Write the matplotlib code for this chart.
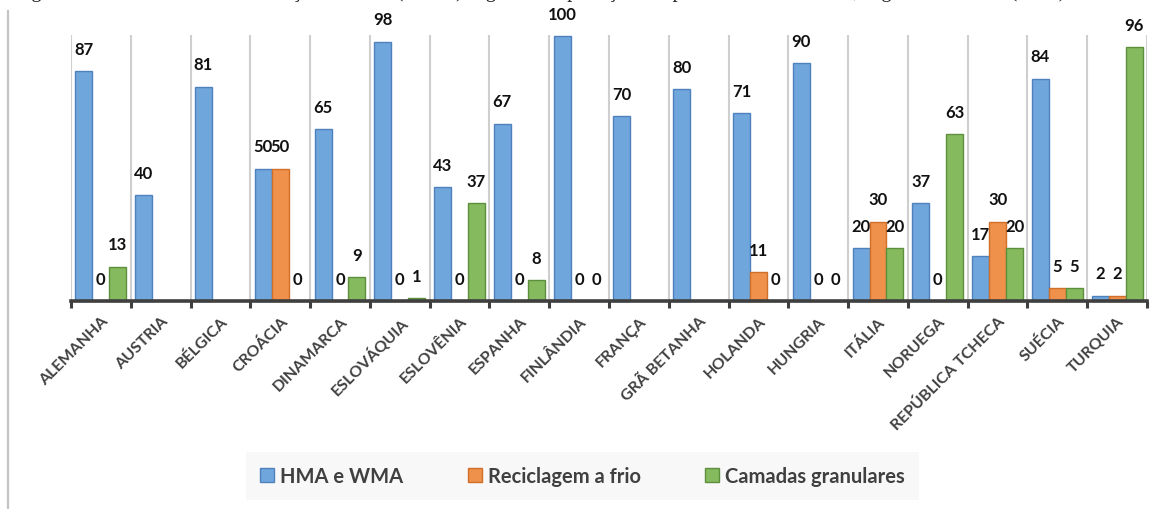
import numpy as np
import matplotlib
matplotlib.use("Agg")
import matplotlib.pyplot as plt
from matplotlib.lines import Line2D

# data (nan = no value shown)
paises = ["ALEMANHA", "AUSTRIA", "BÉLGICA", "CROÁCIA", "DINAMARCA", "ESLOVÁQUIA",
          "ESLOVÊNIA", "ESPANHA", "FINLÂNDIA", "FRANÇA", "GRÃ BETANHA", "HOLANDA",
          "HUNGRIA", "ITÁLIA", "NORUEGA", "REPÚBLICA TCHECA", "SUÉCIA", "TURQUIA"]
nan = np.nan
hma_wma = [87, 40, 81, 50, 65, 98, 43, 67, 100, 70, 80, 71, 90, 20, 37, 17, 84, 2]
reciclagem = [0, nan, nan, 50, 0, 0, 0, 0, 0, nan, nan, 11, 0, 30, 0, 30, 5, 2]
granulares = [13, nan, nan, 0, 9, 1, 37, 8, 0, nan, nan, 0, 0, 20, 63, 20, 5, 96]

series = [
    ("HMA e WMA", hma_wma, "#6FA6DB", "#4F81BD"),
    ("Reciclagem a frio", reciclagem, "#F0914B", "#D06F2A"),
    ("Camadas granulares", granulares, "#85BA5E", "#5E8F3C"),
]

plt.rcParams["font.family"] = ["Lato", "DejaVu Sans"]

W, H = 1165, 510
fig = plt.figure(figsize=(W / 100, H / 100), dpi=100)
ax = fig.add_axes([71 / W, 1 - 302 / H, (1147 - 71) / W, (302 - 36) / H])

x = np.arange(len(paises))
bw = 0.284
for i, (nome, vals, cor, borda) in enumerate(series):
    vals = np.array(vals, dtype=float)
    pos = x + (i - 1) * bw
    ax.bar(pos, vals, bw, color=cor, edgecolor=borda, linewidth=1.0,
           label=nome, zorder=3, clip_on=False)
    for xp, v in zip(pos, vals):
        if np.isnan(v):
            continue
        ax.annotate(f"{v:.0f}", (xp, v), xytext=(0, 16), textcoords="offset points",
                    ha="center", va="center", fontsize=12, fontweight="bold",
                    family=["Liberation Sans Narrow", "Lato"],
                    color="#111111", annotation_clip=False)

ax.set_xlim(-0.5, len(paises) - 0.5)
ax.set_ylim(0, 100.5)
ax.set_yticks([])
for s in ["left", "right", "top"]:
    ax.spines[s].set_visible(False)
ax.spines["bottom"].set_linewidth(2.6)
ax.spines["bottom"].set_color("#3F3F3F")
ax.spines["bottom"].set_zorder(5)

ax.set_xticks(x)
ax.set_xticklabels(paises, rotation=45, ha="right", rotation_mode="anchor",
                   fontsize=11.5, fontweight="bold", color="#404040")
ax.tick_params(axis="x", which="major", length=0, pad=9)
ax.set_xticks(np.arange(-0.5, len(paises)), minor=True)
ax.tick_params(axis="x", which="minor", length=5, width=2.2, color="#3F3F3F")
ax.grid(True, axis="x", which="minor", color="#CFCFCF", linewidth=1.5, zorder=0)
ax.grid(False, axis="x", which="major")

leg = fig.legend(loc="lower center", bbox_to_anchor=(0.5, 0.005), ncol=3,
                 fontsize=14.5, frameon=True, facecolor="#F7F7F7", edgecolor="none",
                 handlelength=0.7, handleheight=0.7, handletextpad=0.3,
                 columnspacing=3.2, borderpad=0.7, borderaxespad=0.3,
                 fancybox=False)
for t in leg.get_texts():
    t.set_color("#404040")
    t.set_fontweight("bold")

# page border and clipped caption line above the chart
fig.add_artist(Line2D([8 / W, 8 / W], [0, 1 - 12 / H], color="#C4C4C4", linewidth=1.6))
fig.text(14 / W, 1 + 3 / H,
         "Figura 2.6 – Percentual de utilização de RAP (EAPA) segundo a aplicação em pavimentos asfálticos, segundo a EAPA (2016)",
         family="Liberation Serif", fontsize=15, va="baseline", ha="left", color="#222222")

fig.savefig("out.png", dpi=100)
